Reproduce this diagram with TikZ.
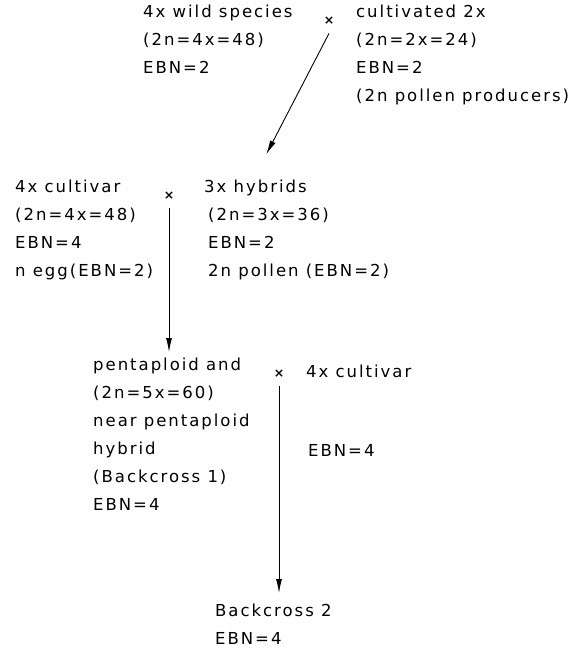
\documentclass[tikz,border=0pt]{standalone}
\usepackage{fontspec}
\setmainfont[LetterSpace=12]{DejaVu Sans}
\usetikzlibrary{arrows.meta}

\begin{document}
\begin{tikzpicture}[
  x=1pt, y=1pt,
  txt/.style={align=left, anchor=north west, inner sep=0pt, font=\fontsize{16.5}{28}\selectfont, execute at begin node=\strut},
  crosssign/.style={anchor=north, inner sep=0pt, font=\fontsize{16.5}{28}\selectfont, execute at begin node=\strut},
  arrow/.style={-{Latex[length=14pt,width=6pt]}, line width=0.9pt}
]
\useasboundingbox (0,0) rectangle (576,-657);

% first cross
\node[txt] (wild) at (143,-5) {4x wild species\\(2n=4x=48)\\EBN=2};
\node[crosssign] (cross1) at (329,-5) {{\fontsize{12.5}{28}\selectfont\bfseries ×}};
\node[txt] (cultivated) at (356,-5) {cultivated 2x\\(2n=2x=24)\\EBN=2\\(2n pollen producers)};

% second cross
\node[txt] (cultivar) at (15,-180) {4x cultivar\\(2n=4x=48)\\EBN=4\\n egg(EBN=2)};
\node[crosssign] (cross2) at (169,-180) {{\fontsize{12.5}{28}\selectfont\bfseries ×}};
\node[txt] (hybrids) at (204,-180) {3x hybrids\\\hspace{4pt}(2n=3x=36)\\\hspace{4pt}EBN=2\\\hspace{4pt}2n pollen (EBN=2)};

% backcross 1
\node[txt] (penta) at (93,-358) {pentaploid and\\(2n=5x=60)\\near pentaploid\\hybrid\\(Backcross 1)\\EBN=4};
\node[crosssign] (cross3) at (279,-358) {{\fontsize{12.5}{28}\selectfont\bfseries ×}};
\node[txt] (cultfour) at (306,-358) {4x cultivar};
\node[txt] (ebnfour) at (308,-437) {EBN=4};

% backcross 2
\node[txt] (back) at (215,-604) {Backcross 2\\EBN=4};

\draw[arrow, shorten >=29pt] (cross1.south) -- ([xshift=49pt]hybrids.north west);
\draw[arrow, shorten >=6pt] (cross2.south) -- (cross2.south |- penta.north);
\draw[arrow, shorten >=11pt] (cross3.south) -- (cross3.south |- back.north);
\end{tikzpicture}
\end{document}
